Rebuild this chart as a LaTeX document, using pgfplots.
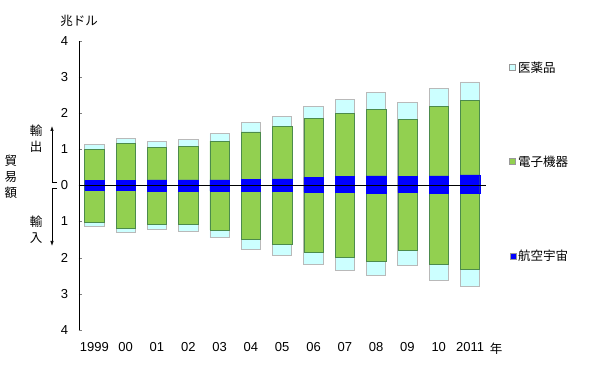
\documentclass[border=0pt]{standalone}
\usepackage{fontspec}
\setmainfont{Liberation Sans}
\newfontfamily\cjk{Noto Sans CJK JP}
\usepackage{pgfplots}
\usepackage{pgfplotstable}
\pgfplotsset{compat=1.18}
\usetikzlibrary{arrows.meta}
\definecolor{cyanb}{HTML}{CCFFFF}
\definecolor{greenb}{HTML}{92D050}
\definecolor{blueb}{HTML}{0000FF}

% cumulative heights (trillion USD); exports positive, imports negative
\pgfplotstableread{
x  eb    eg    ec    ib     ig     ic
0  0.14  1.00  1.13  -0.14  -1.01  -1.13
1  0.14  1.17  1.29  -0.14  -1.20  -1.31
2  0.15  1.06  1.21  -0.15  -1.08  -1.23
3  0.15  1.08  1.27  -0.15  -1.08  -1.26
4  0.15  1.22  1.43  -0.15  -1.23  -1.45
5  0.16  1.48  1.74  -0.17  -1.50  -1.76
6  0.18  1.63  1.91  -0.17  -1.64  -1.95
7  0.22  1.86  2.18  -0.18  -1.86  -2.18
8  0.25  1.99  2.38  -0.20  -2.00  -2.35
9  0.26  2.11  2.56  -0.22  -2.09  -2.50
10 0.25  1.83  2.28  -0.20  -1.79  -2.22
11 0.26  2.18  2.67  -0.22  -2.17  -2.62
12 0.29  2.35  2.86  -0.22  -2.32  -2.80
}\datatable

\begin{document}
\begin{tikzpicture}[x=1pt,y=1pt]
\useasboundingbox (0,0) rectangle (600,379);
\begin{axis}[
  at={(78.7pt,49pt)}, anchor=south west,
  scale only axis, width=407pt, height=289.3pt,
  xmin=-0.5, xmax=12.5, ymin=-4, ymax=4,
  axis x line=bottom, x axis line style={draw=none},
  axis y line=left, y axis line style={-},
  xtick={0,...,12},
  xticklabels={1999,00,01,02,03,04,05,06,07,08,09,10,2011},
  xtick style={draw=none},
  xticklabel style={anchor=north, yshift=-6pt, font=\fontsize{13}{15}\selectfont},
  ytick={-4,-3,-2,-1,0,1,2,3,4},
  yticklabels={4,3,2,1,0,1,2,3,4},
  yticklabel style={xshift=-7pt, font=\fontsize{13}{15}\selectfont},
  tick align=inside, major tick length=3pt,
  ybar, bar width=19.3pt, bar shift=0pt,
  clip=false,
  legend style={draw=none, fill=none, at={(1.05,0.942)}, anchor=north west,
    font=\cjk\fontsize{12.5}{14}\selectfont, row sep=78pt},
  legend cell align=left,
  sq/.style={legend image code/.code={\draw[##1,draw=gray!80] (0pt,-3pt) rectangle (6pt,3pt);}},
]
\addplot[sq, fill=cyanb, draw=gray!55, line width=0.8pt] table[x=x,y=ec]{\datatable};
\addlegendentry{医薬品}
\addplot[sq, fill=greenb, draw=green!35!black!70, line width=0.5pt] table[x=x,y=eg]{\datatable};
\addlegendentry{電子機器}
\addplot[sq, fill=blueb, draw=blueb, line width=0.3pt] table[x=x,y=eb]{\datatable};
\addlegendentry{航空宇宙}
\addplot[forget plot, fill=cyanb, draw=gray!55, line width=0.8pt] table[x=x,y=ic]{\datatable};
\addplot[forget plot, fill=greenb, draw=green!35!black!70, line width=0.5pt] table[x=x,y=ig]{\datatable};
\addplot[forget plot, fill=blueb, draw=blueb, line width=0.3pt] table[x=x,y=ib]{\datatable};
\draw[black, line width=0.6pt] (axis cs:-0.5,0) -- (axis cs:12.5,0);
\end{axis}
\begin{scope}[every node/.style={font=\cjk\fontsize{12.5}{14}\selectfont, inner sep=0pt}]
\node at (79,358) {兆ドル};
\node at (496,30) {年};
\node at (11,218) {貿};
\node at (11,202) {易};
\node at (11,186) {額};
\node at (36,248) {輸};
\node at (36,232) {出};
\node at (36,157) {輸};
\node at (36,141) {入};
\end{scope}
\draw[line width=0.7pt, -{Latex[length=5pt,width=3.5pt]}] (57,197) -- (52,197) -- (52,253);
\draw[line width=0.7pt, -{Latex[length=5pt,width=3.5pt]}] (57,191) -- (52,191) -- (52,133);
\end{tikzpicture}
\end{document}
